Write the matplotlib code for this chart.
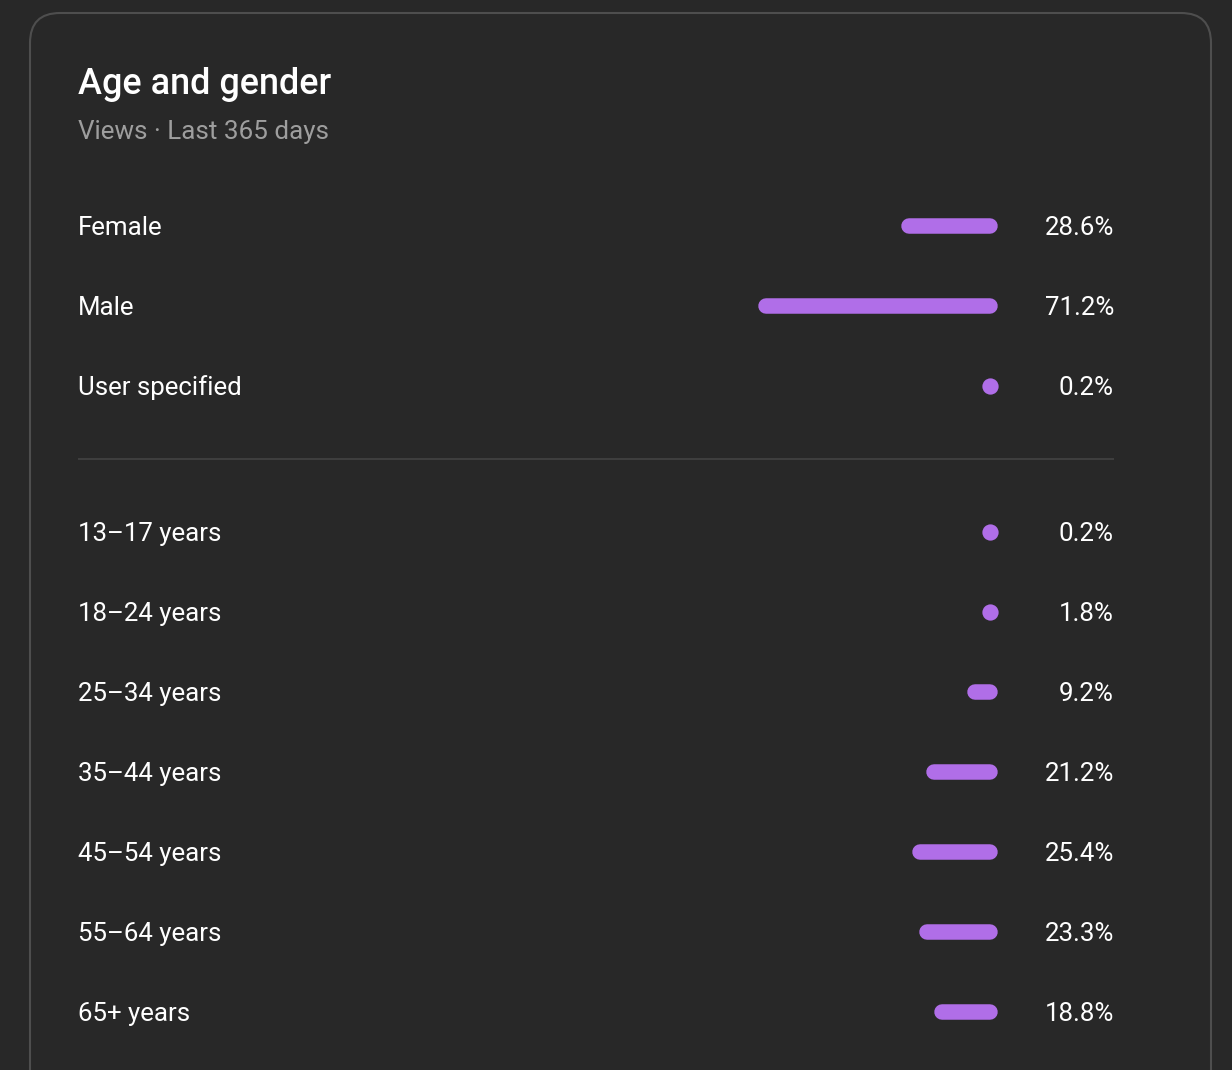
import matplotlib
matplotlib.use('Agg')
import matplotlib.pyplot as plt
from matplotlib.patches import FancyBboxPatch

# data
gender_labels = ['Female', 'Male', 'User specified']
gender_values = [28.6, 71.2, 0.2]
age_labels = ['13–17 years', '18–24 years', '25–34 years', '35–44 years',
              '45–54 years', '55–64 years', '65+ years']
age_values = [0.2, 1.8, 9.2, 21.2, 25.4, 23.3, 18.8]

BG = '#282828'
BAR = '#b06ee8'
W, H = 1232, 1070

plt.rcParams['font.family'] = ['Roboto', 'DejaVu Sans']

fig = plt.figure(figsize=(W / 100, H / 100), dpi=100)
fig.patch.set_facecolor(BG)

# base axes in pixel units for the card and texts
ax = fig.add_axes([0, 0, 1, 1])
ax.set_xlim(0, W)
ax.set_ylim(H, 0)
ax.axis('off')

card = FancyBboxPatch((30, 13), 1181, 1200, boxstyle='round,pad=0,rounding_size=30',
                      facecolor=BG, edgecolor='#4e4e4e', linewidth=1.5)
ax.add_patch(card)

ax.text(78, 93.5, 'Age and gender', color='white', fontsize=25.9, fontweight='medium',
        ha='left', va='baseline')
ax.text(78, 138.5, 'Views · Last 365 days', color='#9e9e9e', fontsize=18.7,
        ha='left', va='baseline')

# row positions (pixels)
gender_y = [226 + 80 * i for i in range(len(gender_values))]
age_y = [532 + 80 * i for i in range(len(age_values))]

ax.plot([78, 1114], [459, 459], color='#3e3e3e', lw=1.5, solid_capstyle='butt')

# bar axes: percent scale running leftwards from the bar end
bar_right = 998
px_per_pct = 3.37
bar_left = bar_right - 100 * px_per_pct
axb = fig.add_axes([bar_left / W, 0, (bar_right - bar_left) / W, 1])
axb.set_xlim(100, 0)
axb.set_ylim(H, 0)
axb.axis('off')

lw_px = 15.5
lw_pt = lw_px * 0.72
cap = (lw_px / 2) / px_per_pct  # cap radius in percent units

def draw_row(label, value, y):
    ax.text(78, y + 8.7, label, color='white', fontsize=18.6, ha='left', va='baseline')
    ax.text(1114, y + 8.7, f'{value}%', color='white', fontsize=18.6, ha='right',
            va='baseline')
    if value <= 2 * cap:
        axb.plot([cap], [y], 'o', color=BAR, ms=lw_pt * 1.05, mew=0)
    else:
        axb.plot([value - cap, cap], [y, y], color=BAR, lw=lw_pt,
                 solid_capstyle='round')

for lab, val, y in zip(gender_labels, gender_values, gender_y):
    draw_row(lab, val, y)
for lab, val, y in zip(age_labels, age_values, age_y):
    draw_row(lab, val, y)

fig.savefig('out.png', dpi=100, facecolor=BG)
